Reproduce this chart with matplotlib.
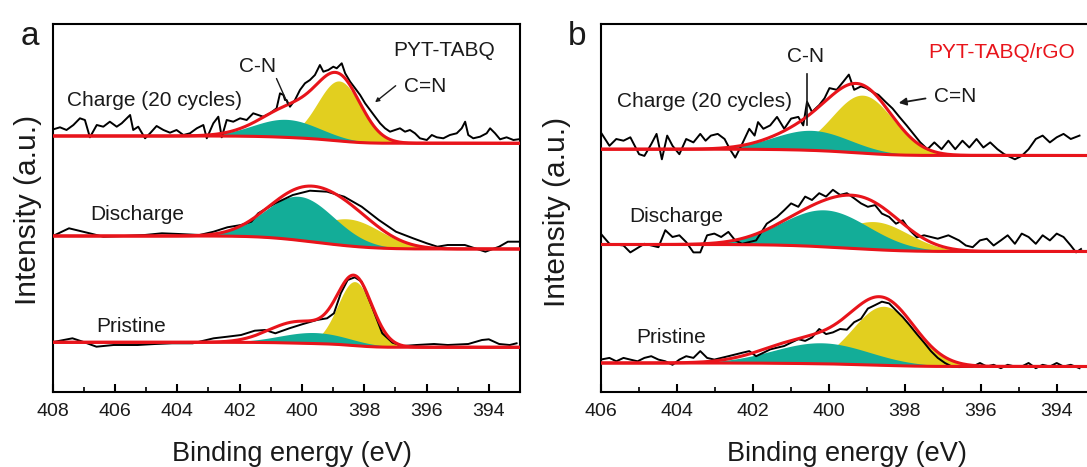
import numpy as np
import matplotlib
matplotlib.use("Agg")
import matplotlib.pyplot as plt

plt.rcParams['font.family'] = ['Liberation Sans', 'DejaVu Sans']

# ---------------- DATA (binding energy eV, intensity a.u. incl. vertical offsets) -------------
# Panel a: PYT-TABQ
a_charge_E = [407.97, 407.76, 407.55, 407.33, 407.12, 406.96, 406.80, 406.58, 406.37, 406.16, 405.94, 405.78,
              405.51, 405.41, 405.25, 405.03, 404.87, 404.66, 404.44, 404.23, 404.02, 403.80, 403.59, 403.37,
              403.16, 403.05, 402.84, 402.68, 402.57, 402.41, 402.20, 401.98, 401.77, 401.56, 401.40, 401.24,
              401.02, 400.81, 400.70, 400.59, 400.54, 400.49, 400.38, 400.22, 400.06, 399.90, 399.74, 399.58,
              399.42, 399.31, 399.15, 398.99, 398.88, 398.72, 398.61, 398.45, 398.29, 398.13, 397.97, 397.81,
              397.65, 397.49, 397.33, 397.17, 397.01, 396.85, 396.69, 396.53, 396.37, 396.21, 395.99, 395.83,
              395.67, 395.46, 395.25, 395.03, 394.87, 394.76, 394.66, 394.50, 394.28, 394.07, 393.96, 393.80,
              393.64, 393.43, 393.21, 393.05]
a_charge_I = [262.7, 264.7, 262.0, 267.0, 273.7, 272.0, 254.7, 267.0, 265.3, 270.3, 265.3, 268.7,
              277.0, 262.0, 265.3, 253.7, 258.7, 266.0, 262.0, 259.3, 262.0, 257.0, 258.7, 263.7,
              267.0, 253.7, 268.7, 275.3, 254.7, 272.0, 270.3, 273.7, 272.0, 278.7, 277.0, 275.3,
              278.7, 283.7, 298.7, 297.0, 292.0, 292.0, 285.3, 292.0, 302.0, 308.7, 312.0, 317.0,
              327.0, 320.3, 322.0, 325.3, 323.7, 328.7, 318.7, 310.3, 303.7, 297.0, 288.7, 282.0,
              275.3, 268.7, 263.7, 260.3, 262.0, 263.7, 260.3, 262.0, 258.7, 253.7, 252.0, 257.0,
              254.7, 253.7, 257.0, 258.7, 263.7, 270.3, 257.0, 253.7, 255.3, 258.7, 263.7, 258.7,
              252.7, 254.7, 252.0, 252.7]

a_dis_E = [407.92, 407.47, 406.81, 406.37, 405.71, 405.04, 404.49, 403.94, 403.28, 402.83, 402.39, 401.95,
           401.62, 401.40, 400.85, 400.29, 399.74, 399.19, 398.64, 398.08, 397.53, 396.98, 396.43, 395.99,
           395.65, 395.32, 394.77, 394.11, 393.67, 393.39, 393.06]
a_dis_I = [157.0, 163.7, 158.7, 155.3, 156.0, 157.0, 158.7, 158.0, 157.0, 160.3, 164.7, 167.0,
           170.3, 178.7, 188.7, 197.0, 201.3, 200.3, 195.3, 185.3, 172.0, 160.3, 153.7, 148.7,
           145.3, 147.0, 147.0, 140.3, 145.3, 150.3, 150.3]

a_pri_E = [407.92, 407.36, 407.03, 406.59, 406.04, 405.27, 404.71, 404.16, 403.50, 402.83, 402.39, 401.95,
           401.51, 401.18, 400.85, 400.40, 399.96, 399.52, 399.19, 398.97, 398.75, 398.53, 398.30, 398.08,
           397.75, 397.42, 397.09, 396.76, 396.32, 395.76, 395.32, 394.66, 394.22, 394.00, 393.67, 393.33,
           393.11]
a_pri_I = [50.3, 53.7, 50.3, 45.3, 47.0, 47.0, 48.0, 48.7, 48.7, 53.7, 55.3, 57.0,
           61.3, 62.0, 58.7, 63.7, 68.0, 72.0, 73.7, 78.7, 98.7, 112.0, 114.7, 110.3,
           85.3, 58.7, 49.3, 46.0, 47.0, 48.0, 47.0, 48.0, 52.0, 52.7, 48.0, 47.0,
           48.7]

# Panel b: PYT-TABQ/rGO
b_charge_E = [405.97, 405.77, 405.59, 405.40, 405.22, 404.99, 404.85, 404.67, 404.53, 404.39, 404.25, 404.11,
              403.93, 403.75, 403.56, 403.38, 403.24, 403.10, 402.92, 402.74, 402.60, 402.46, 402.28, 402.09,
              401.95, 401.86, 401.72, 401.54, 401.36, 401.17, 400.99, 400.80, 400.67, 400.57, 400.44, 400.25,
              400.11, 399.98, 399.79, 399.61, 399.47, 399.33, 399.15, 399.01, 398.87, 398.69, 398.51, 398.32,
              398.14, 397.95, 397.77, 397.59, 397.40, 397.22, 397.03, 396.85, 396.67, 396.48, 396.30, 396.11,
              395.93, 395.75, 395.56, 395.38, 395.10, 394.92, 394.74, 394.55, 394.37, 394.18, 394.00, 393.82,
              393.63, 393.40]
b_charge_I = [258.1, 246.2, 253.0, 251.3, 254.7, 237.8, 236.1, 247.9, 258.1, 232.7, 256.4, 246.2,
              237.8, 253.0, 249.6, 258.1, 251.3, 256.4, 258.1, 253.0, 242.8, 234.4, 247.9, 263.2,
              256.4, 269.9, 263.2, 266.6, 275.1, 263.2, 273.4, 275.1, 266.6, 290.3, 280.1, 286.9,
              293.7, 303.9, 302.2, 310.6, 317.4, 302.2, 305.6, 303.9, 300.5, 297.1, 290.3, 283.5,
              275.1, 266.6, 258.1, 249.6, 242.8, 249.6, 242.8, 251.3, 242.8, 251.3, 244.5, 253.0,
              244.5, 249.6, 242.8, 237.8, 232.7, 236.1, 242.8, 253.0, 256.4, 249.6, 254.7, 258.1,
              253.0, 256.4]

b_dis_E = [406.00, 405.77, 405.40, 405.22, 404.85, 404.48, 404.30, 404.11, 403.93, 403.75, 403.56, 403.38,
           403.20, 403.01, 402.83, 402.64, 402.46, 402.28, 401.91, 401.63, 401.36, 401.17, 400.99, 400.80,
           400.62, 400.44, 400.25, 400.07, 399.89, 399.70, 399.52, 399.33, 399.15, 398.97, 398.78, 398.60,
           398.41, 398.23, 398.05, 397.86, 397.68, 397.49, 397.13, 396.85, 396.57, 396.39, 396.21, 396.02,
           395.84, 395.66, 395.47, 395.29, 395.10, 394.92, 394.74, 394.55, 394.37, 394.18, 394.00, 393.82,
           393.63, 393.49, 393.36]
b_dis_I = [158.4, 148.2, 146.5, 139.6, 148.2, 144.8, 161.8, 155.0, 156.7, 149.9, 139.6, 139.6,
           156.7, 158.4, 155.0, 160.1, 151.6, 148.2, 151.6, 168.3, 175.1, 181.8, 188.6, 185.2,
           195.4, 192.0, 198.8, 195.4, 202.2, 197.1, 198.8, 193.7, 188.6, 185.2, 186.9, 178.4,
           175.1, 168.3, 171.7, 161.5, 154.7, 156.7, 153.3, 156.7, 151.6, 146.5, 144.8, 151.6,
           153.3, 146.5, 151.6, 156.7, 148.2, 158.4, 155.0, 148.2, 156.7, 151.6, 158.4, 155.0,
           146.5, 139.6, 143.0]

b_pri_E = [406.00, 405.77, 405.59, 405.40, 405.22, 405.03, 404.85, 404.67, 404.48, 404.30, 404.11, 403.93,
           403.75, 403.56, 403.38, 403.20, 403.01, 402.64, 402.46, 402.28, 402.09, 401.91, 401.72, 401.54,
           401.36, 401.17, 400.99, 400.80, 400.62, 400.44, 400.25, 400.07, 399.89, 399.70, 399.52, 399.33,
           399.15, 398.97, 398.78, 398.60, 398.41, 398.23, 398.05, 397.86, 397.68, 397.49, 397.31, 397.13,
           396.94, 396.76, 396.57, 396.21, 396.02, 395.84, 395.66, 395.47, 395.29, 395.10, 394.92, 394.74,
           394.55, 394.37, 394.18, 394.00, 393.82, 393.63, 393.40]
b_pri_I = [32.4, 34.1, 30.7, 34.1, 32.4, 30.7, 34.1, 35.8, 32.4, 30.7, 27.2, 32.4,
           35.8, 34.1, 40.9, 34.1, 32.4, 35.8, 37.5, 39.2, 40.9, 35.8, 39.2, 42.6,
           44.3, 46.0, 49.4, 52.8, 51.1, 54.5, 63.0, 57.9, 59.6, 63.0, 62.3, 69.8,
           73.2, 83.4, 86.9, 90.3, 88.6, 81.7, 74.9, 66.4, 57.9, 49.4, 40.9, 34.1,
           29.0, 25.5, 24.9, 25.5, 29.0, 25.5, 27.2, 23.8, 27.2, 25.5, 25.5, 29.0,
           23.8, 27.2, 25.5, 29.0, 25.5, 27.2, 23.8]

# Fitted components: (centre eV, sigma eV, height) ; background levels (high-BE side, low-BE side)
a_charge_CN = (400.5, 1.05, 18.0)
a_charge_CeqN = (398.8, 0.69, 60.0)
a_charge_extra = (400.2, 0.80, 12.0)
a_charge_bg = (256.0, 248.7)

a_dis_CN = (400.07, 1.11, 44.0)
a_dis_CeqN = (398.5, 1.05, 27.0)
a_dis_extra = (399.5, 0.80, 0.0)
a_dis_bg = (156.0, 143.0)

a_pri_CN = (399.6, 1.10, 11.0)
a_pri_CeqN = (398.3, 0.55, 64.0)
a_pri_extra = (400.3, 0.85, 12.0)
a_pri_bg = (49.7, 44.7)

b_charge_CN = (400.45, 1.00, 20.0)
b_charge_CeqN = (399.1, 0.80, 58.0)
b_charge_extra = (400.0, 0.80, 4.0)
b_charge_bg = (242.8, 236.5)

b_dis_CN = (400.1, 1.15, 37.0)
b_dis_CeqN = (398.8, 0.90, 28.0)
b_dis_extra = (399.5, 0.80, 0.0)
b_dis_bg = (147.5, 140.5)

b_pri_CN = (400.2, 1.25, 21.0)
b_pri_CeqN = (398.55, 0.82, 59.0)
b_pri_extra = (401.0, 0.90, 5.0)
b_pri_bg = (29.0, 25.5)

# ---------------- STYLE ----------------
TEAL = '#13ad98'
YELLOW = '#e2cf1f'
RED = '#e8141b'
OLIVE = '#8c7a2b'
TXT = '#1a1a1a'

W, H = 1087, 467
fig = plt.figure(figsize=(W / 100, H / 100), dpi=100)


def gauss(x, p):
    c, s, h = p
    return h * np.exp(-0.5 * ((x - c) / s) ** 2)


def draw_spectrum(ax, E, I, cn, ceqn, extra, bg, lo, hi):
    x = np.linspace(lo, hi, 800)
    g1 = gauss(x, cn)
    g2 = gauss(x, ceqn)
    g3 = gauss(x, extra)
    tot = g1 + g2 + g3
    cum = np.cumsum(tot)  # increasing with binding energy (Shirley-type step)
    frac = cum / cum[-1]
    base = bg[1] + (bg[0] - bg[1]) * frac
    ax.fill_between(x, base, base + g2, color=YELLOW, lw=0, zorder=2)
    ax.fill_between(x, base, base + g1, color=TEAL, lw=0, zorder=3)
    ax.plot(x, base, color=OLIVE, lw=1.2, zorder=4)
    ax.plot(E, I, color='black', lw=1.4, zorder=5)
    ax.plot(x, base + tot, color=RED, lw=2.2, zorder=6)
    ax.plot(x, base, color=RED, lw=2.2, zorder=6)


def style_axes(ax, lo, hi, ticks):
    ax.set_xlim(hi, lo)
    ax.set_ylim(0, 368)
    ax.set_yticks([])
    ax.set_xticks(ticks)
    ax.set_xticks(np.arange(lo, hi + 0.5, 1.0), minor=True)
    ax.tick_params(axis='x', which='major', direction='in', length=6, width=1.5,
                   labelsize=14, pad=8, top=False, labelcolor=TXT)
    ax.tick_params(axis='x', which='minor', direction='in', length=3.5, width=1.2, top=False)
    for sp in ax.spines.values():
        sp.set_linewidth(1.5)


FS = 15

# Panel a
axa = fig.add_axes([52.5 / W, 1 - 392 / H, (520 - 52.5) / W, (392 - 24) / H])
draw_spectrum(axa, a_charge_E, a_charge_I, a_charge_CN, a_charge_CeqN, a_charge_extra, a_charge_bg, 393, 408)
draw_spectrum(axa, a_dis_E, a_dis_I, a_dis_CN, a_dis_CeqN, a_dis_extra, a_dis_bg, 393, 408)
draw_spectrum(axa, a_pri_E, a_pri_I, a_pri_CN, a_pri_CeqN, a_pri_extra, a_pri_bg, 393, 408)
style_axes(axa, 393, 408, [394, 396, 398, 400, 402, 404, 406, 408])

axa.text(404.74, 292, 'Charge (20 cycles)', fontsize=FS, ha='center', va='center', color=TXT, zorder=7)
axa.text(405.29, 177, 'Discharge', fontsize=FS, ha='center', va='center', color=TXT, zorder=7)
axa.text(405.48, 65, 'Pristine', fontsize=FS, ha='center', va='center', color=TXT, zorder=7)
axa.text(395.44, 341, 'PYT-TABQ', fontsize=FS, ha='center', va='center', color=TXT, zorder=7)
axa.text(401.41, 326, 'C-N', fontsize=FS, ha='center', va='center', color=TXT, zorder=7)
axa.annotate('', xy=(400.41, 285.3), xytext=(400.85, 316),
             arrowprops=dict(arrowstyle='-', color=TXT, lw=1.0), zorder=7)
axa.text(396.05, 305, 'C=N', fontsize=FS, ha='center', va='center', color=TXT, zorder=7)
axa.annotate('', xy=(397.72, 288), xytext=(396.92, 308),
             arrowprops=dict(arrowstyle='-|>', color=TXT, lw=1.0, mutation_scale=6), zorder=7)

# Panel b
b_right = 600.7 + 13 * 38.0
axb = fig.add_axes([600.7 / W, 1 - 392 / H, (b_right - 600.7) / W, (392 - 24) / H])
draw_spectrum(axb, b_charge_E, b_charge_I, b_charge_CN, b_charge_CeqN, b_charge_extra, b_charge_bg, 393, 406)
draw_spectrum(axb, b_dis_E, b_dis_I, b_dis_CN, b_dis_CeqN, b_dis_extra, b_dis_bg, 393, 406)
draw_spectrum(axb, b_pri_E, b_pri_I, b_pri_CN, b_pri_CeqN, b_pri_extra, b_pri_bg, 393, 406)
style_axes(axb, 393, 406, [394, 396, 398, 400, 402, 404, 406])

axb.text(403.26, 290.3, 'Charge (20 cycles)', fontsize=FS, ha='center', va='center', color=TXT, zorder=7)
axb.text(404.02, 175, 'Discharge', fontsize=FS, ha='center', va='center', color=TXT, zorder=7)
axb.text(404.15, 54.5, 'Pristine', fontsize=FS, ha='center', va='center', color=TXT, zorder=7)
axb.text(397.38, 339, 'PYT-TABQ/rGO', fontsize=FS, ha='left', va='center', color=RED, zorder=7)
axb.text(400.61, 336, 'C-N', fontsize=FS, ha='center', va='center', color=TXT, zorder=7)
axb.plot([400.56, 400.56], [318.0, 266.6], color=TXT, lw=1.2, zorder=7)
axb.text(396.66, 295, 'C=N', fontsize=FS, ha='center', va='center', color=TXT, zorder=7)
axb.annotate('', xy=(398.23, 288.6), xytext=(397.38, 294),
             arrowprops=dict(arrowstyle='-|>', color=TXT, lw=1.3, mutation_scale=11), zorder=7)

# Axis labels and panel letters
fig.text(292 / W, 1 - 454 / H, 'Binding energy (eV)', fontsize=19.5, ha='center', va='center', color=TXT)
fig.text(847 / W, 1 - 454 / H, 'Binding energy (eV)', fontsize=19.5, ha='center', va='center', color=TXT)
fig.text(28 / W, 1 - 210 / H, 'Intensity (a.u.)', fontsize=21.5, ha='center', va='center', rotation=90, color=TXT)
fig.text(557 / W, 1 - 212 / H, 'Intensity (a.u.)', fontsize=21.5, ha='center', va='center', rotation=90, color=TXT)
fig.text(30 / W, 1 - 45 / H, 'a', fontsize=24, ha='center', va='baseline', color=TXT)
fig.text(577 / W, 1 - 45 / H, 'b', fontsize=24, ha='center', va='baseline', color=TXT)

fig.savefig('out.png', dpi=100)
